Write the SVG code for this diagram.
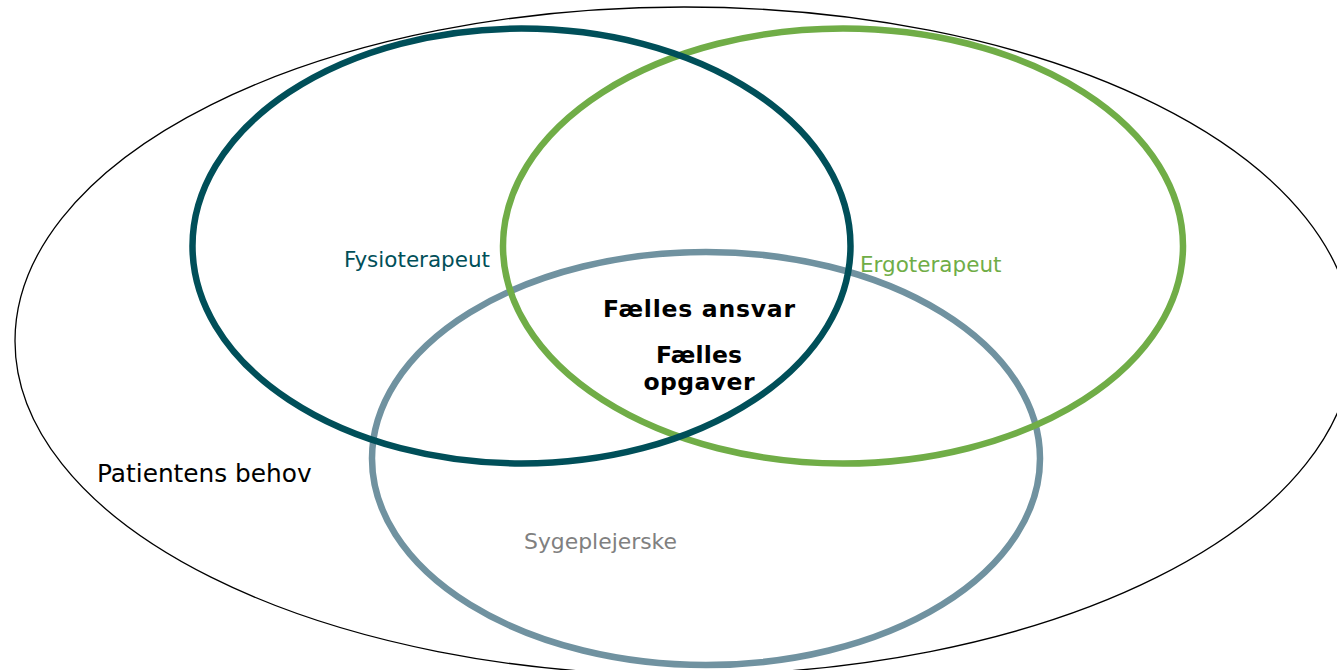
<svg xmlns="http://www.w3.org/2000/svg" width="1337" height="670" viewBox="0 0 1337 670">
<style>
.ring{fill:none}
.lbl{font-family:"DejaVu Sans","Verdana",sans-serif;font-size:21.5px}
.bold{font-family:"DejaVu Sans","Verdana",sans-serif;font-size:23.5px;font-weight:bold;fill:#000;text-anchor:middle}
</style>
<rect width="1337" height="670" fill="#fff"/>
<g id="patient">
<ellipse class="ring" cx="684" cy="341" rx="669" ry="334" stroke="#000" stroke-width="1.3"/>
<text class="lbl" x="97" y="481.5" style="font-size:24.8px" fill="#000">Patientens behov</text>
</g>
<g id="sygeplejerske">
<ellipse class="ring" cx="706" cy="458.5" rx="334" ry="206.5" stroke="#7092a0" stroke-width="6.5"/>
<text class="lbl" x="524" y="549" style="font-size:21.9px" fill="#808080">Sygeplejerske</text>
</g>
<g id="ergoterapeut">
<ellipse class="ring" cx="843" cy="246" rx="340" ry="217.5" stroke="#70ad47" stroke-width="6.5"/>
<text class="lbl" x="860" y="271.5" fill="#70ad47">Ergoterapeut</text>
</g>
<g id="fysioterapeut">
<ellipse class="ring" cx="521.5" cy="246" rx="329" ry="217.5" stroke="#004f59" stroke-width="6.5"/>
<text class="lbl" x="344" y="266.5" fill="#004f59">Fysioterapeut</text>
</g>
<g id="faelles">
<text class="bold" x="699" y="317" textLength="192" lengthAdjust="spacing">Fælles ansvar</text>
<text class="bold" x="699" y="363" textLength="86" lengthAdjust="spacing">Fælles</text>
<text class="bold" x="699" y="390" textLength="111" lengthAdjust="spacing">opgaver</text>
</g>
</svg>
